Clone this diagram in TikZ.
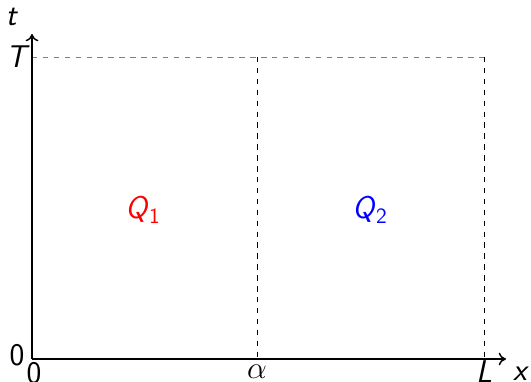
\documentclass[tikz,border=0pt]{standalone}
\usepackage{amsmath, amssymb}
\usepackage{tikz}
\usetikzlibrary{arrows.meta, positioning, calc}
\usepackage{xcolor}

\begin{document}
\begin{tikzpicture}[x=0.55pt, y=0.55pt, font=\sffamily\LARGE,
  axis/.style={line width=0.8pt, -{To[length=4pt,width=7pt]}},
  guide/.style={dashed, line width=0.5pt}]
  \useasboundingbox (0,0) rectangle (531,381);

  \coordinate (O) at (32,22);
  \coordinate (X) at (506,22);
  \coordinate (Y) at (32,347);
  \coordinate (T) at (32,324);
  \coordinate (A) at (257,22);
  \coordinate (L) at (484,22);
  \coordinate (AT) at (257,324);
  \coordinate (LT) at (484,324);

  \draw[guide, gray] (T) -- (LT);
  \draw[guide] (AT) -- (A);
  \draw[guide] (LT) -- (L);

  \draw[axis] (O) -- (X);
  \draw[axis] (O) -- (Y);

  \node (tlabel) at (12,364) {\textit{t}};
  \node (Tlabel) at (18,324) {\textit{T}};
  \node (zerot) at (17,26) {0};
  \node (zerox) at (34,8) {0};
  \node (alabel) at (257,9) {$\alpha$};
  \node (Llabel) at (484,9) {\textit{L}};
  \node (xlabel) at (521,7) {\textit{x}};

  \node[red] (Q1) at (143,171) {\textit{Q}$_{\textsf{1}}$};
  \node[blue] (Q2) at (370,171) {\textit{Q}$_{\textsf{2}}$};
\end{tikzpicture}
\end{document}
